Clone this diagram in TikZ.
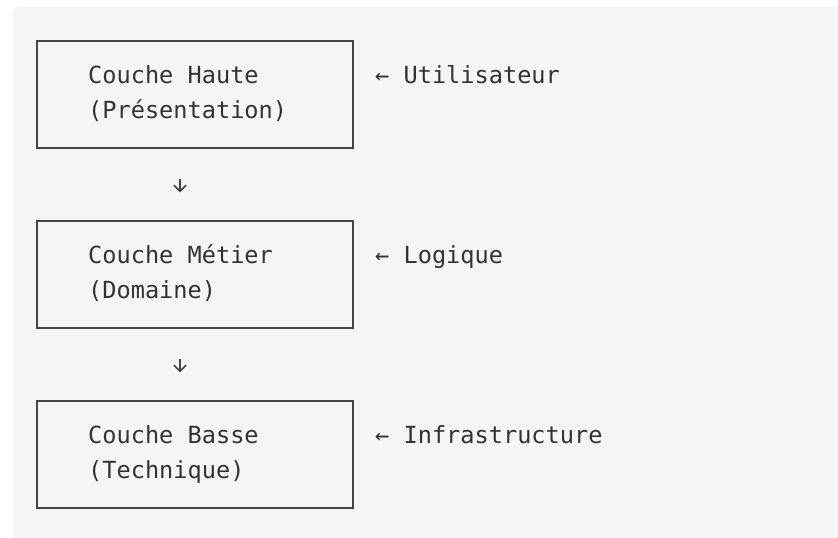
\documentclass[tikz,border=0pt]{standalone}
\usepackage{fontspec}
\setmonofont{DejaVu Sans Mono}
\usetikzlibrary{arrows.meta}
\begin{document}
\begin{tikzpicture}[x=1pt,y=-1pt]
  % Define colors
  \definecolor{bgcolor}{RGB}{245,245,245}
  \definecolor{linecolor}{RGB}{68,68,68}
  \definecolor{textcolor}{RGB}{51,51,51}
  \tikzset{
    layerbox/.style={draw=linecolor,line width=1.5pt,minimum width=316pt,minimum height=107pt,inner sep=0pt},
    layertext/.style={anchor=base west,inner sep=0pt,text=textcolor,font=\ttfamily\fontsize{23.6}{35}\selectfont},
    flow/.style={-{Straight Barb[length=6pt,width=12pt]},linecolor,line width=1.5pt}
  }
  \useasboundingbox (0,0) rectangle (838,538);

  % Background
  \fill[bgcolor,rounded corners=6] (13,7) rectangle (860,560);

  % Layers
  \foreach \name/\y/\title/\sub/\role in {haute/0/Couche Haute/(Présentation)/Utilisateur,
      metier/180/Couche Métier/(Domaine)/Logique,
      basse/360/Couche Basse/(Technique)/Infrastructure} {
    \node[layerbox] (box\name) at (195,{94.5+\y}) {};
    \node[layertext] (title\name) at (88,{83+\y}) {\title};
    \node[layertext] (sub\name) at (88,{118+\y}) {\sub};
    \node[layertext] (role\name) at (375,{83+\y}) {← \role};
  }

  % Connections
  \foreach \a/\b in {haute/metier,metier/basse} {
    \draw[flow,shorten <=30pt,shorten >=28pt] ([xshift=-15pt]box\a.south) -- ([xshift=-15pt]box\b.north);
  }
\end{tikzpicture}
\end{document}
